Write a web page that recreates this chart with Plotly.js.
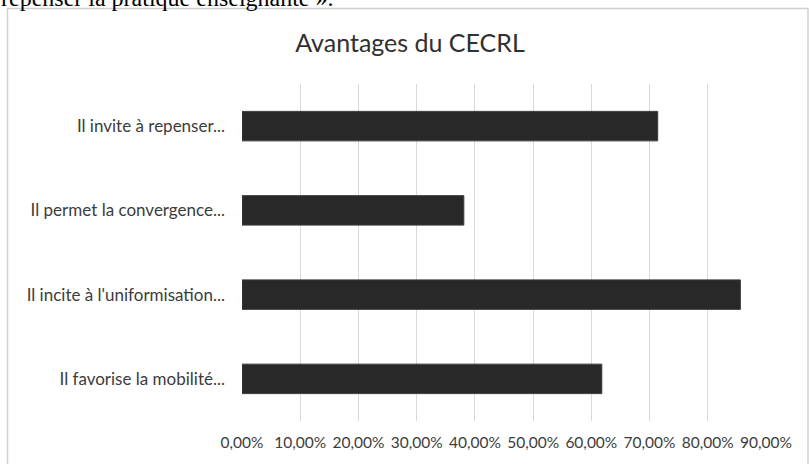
<!DOCTYPE html>
<html>
<head>
<meta charset="utf-8">
<script src="https://cdn.plot.ly/plotly-3.0.1.min.js"></script>
<style>
html,body{margin:0;padding:0;background:#fff;}
#chart{width:810px;height:464px;}
</style>
</head>
<body>
<div id="chart"></div>
<script>
// Data
const categories = [
  "Il invite à repenser...",
  "Il permet la convergence...",
  "Il incite à l'uniformisation...",
  "Il favorise la mobilité..."
];
const values = [0.714, 0.381, 0.856, 0.618];
const tickValues = [0, 0.1, 0.2, 0.3, 0.4, 0.5, 0.6, 0.7, 0.8, 0.9];
const chartTitle = "Avantages du CECRL";
const aboveText = "repenser la pratique enseignante ».";

// Layout geometry (pixels)
const W = 810, H = 464;
const plotL = 242, plotR = 766, plotT = 83.5, plotB = 420.7;
const pw = plotR - plotL, ph = plotB - plotT;
const px = x => (x - plotL) / pw;
const py = y => (plotB - y) / ph;

const textColor = "#3c3c3c";
const fontFam = "Lato, 'Open Sans', sans-serif";

const trace = {
  type: "bar",
  orientation: "h",
  y: categories,
  x: values,
  marker: {color: "#282828", line: {color: "#3c3c3c", width: 1}},
  hoverinfo: "skip"
};

const layout = {
  width: W,
  height: H,
  margin: {l: plotL, r: W - plotR, t: plotT, b: H - plotB, pad: 0},
  paper_bgcolor: "#ffffff",
  plot_bgcolor: "#ffffff",
  separators: ", ",
  showlegend: false,
  bargap: 0.65,
  font: {family: fontFam, color: textColor},
  title: {
    text: chartTitle,
    font: {family: fontFam, size: 25, color: "#303030"},
    xref: "container", x: 410 / W, xanchor: "center",
    yref: "container", y: 1 - 43 / H, yanchor: "middle"
  },
  xaxis: {
    range: [0, 0.9],
    tickvals: tickValues,
    tickformat: ".2%",
    showgrid: true,
    gridcolor: "#d9d9d9",
    gridwidth: 1,
    zeroline: false,
    showline: false,
    ticks: "",
    ticklabelstandoff: 10,
    tickfont: {family: fontFam, size: 15.5, color: textColor},
    fixedrange: true
  },
  yaxis: {
    autorange: "reversed",
    type: "category",
    showgrid: false,
    zeroline: false,
    showline: false,
    ticks: "",
    ticklabelstandoff: 16,
    tickfont: {family: fontFam, size: 17, color: textColor},
    fixedrange: true
  },
  shapes: [{
    type: "rect", xref: "paper", yref: "paper",
    x0: px(7.5), x1: px(808), y0: py(475), y1: py(8),
    line: {color: "#d0d0d0", width: 1.5},
    fillcolor: "rgba(0,0,0,0)", layer: "below"
  }],
  annotations: [{
    text: aboveText,
    xref: "paper", yref: "paper",
    x: px(-1), xanchor: "left",
    y: py(-3), yanchor: "middle",
    showarrow: false,
    font: {family: "'Liberation Serif', 'DejaVu Serif', serif", size: 24, color: "#000000"}
  }]
};

Plotly.newPlot("chart", [trace], layout, {displayModeBar: false, staticPlot: true});
</script>
</body>
</html>
